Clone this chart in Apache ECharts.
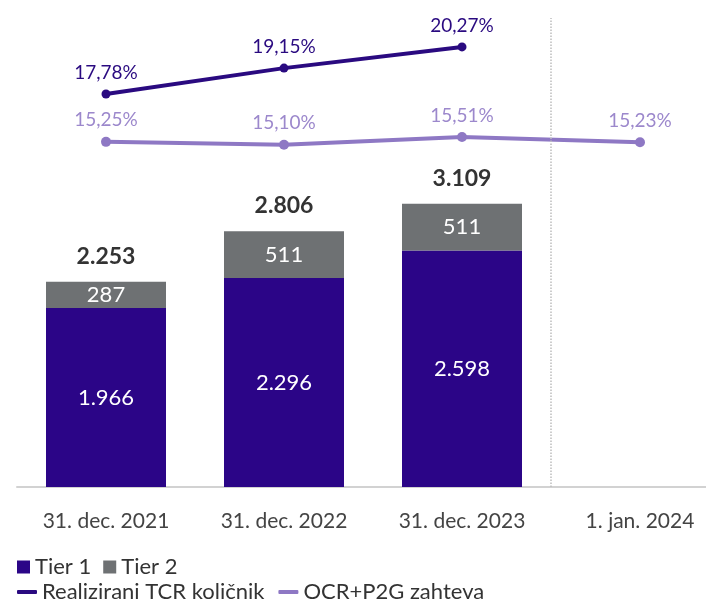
<!DOCTYPE html>
<html>
<head>
    <meta charset="utf-8">
    <title>TCR</title>
    <script src="https://cdn.jsdelivr.net/npm/echarts@6/dist/echarts.min.js"></script>
    <style>
        html, body { margin: 0; padding: 0; background: #fff; }
        #chart { width: 706px; height: 605px; }
    </style>
</head>
<body>
<div id="chart"></div>
<script type="text/javascript">
    // podaci
    var categories = ['31. dec. 2021', '31. dec. 2022', '31. dec. 2023', '1. jan. 2024'];
    var tier1 = [1966, 2296, 2598, null];
    var tier2 = [287, 511, 511, null];
    var totals = [2253, 2806, 3109, null];   // kako je napisano na slici
    var tcr = [17.78, 19.15, 20.27, null];
    var ocr = [15.25, 15.10, 15.51, 15.23];
    var dividerAt = [3];  // granica izmedju 2023 i 2024 (u jedinicama kategorija)

    function fmtNum(n) {
        return String(n).replace(/\B(?=(\d{3})+(?!\d))/g, '.');
    }
    function fmtPct(v) {
        return v.toFixed(2).replace('.', ',') + '%';
    }

    var font = 'Lato';
    var myChart = echarts.init(document.getElementById('chart'));

    var option = {
        textStyle: { fontFamily: font },
        animation: false,
        grid: { left: 17, width: 712, top: 18, bottom: 118, outerBoundsMode: 'none', containLabel: false },
        legend: [{
            data: ['Tier 1', 'Tier 2'],
            left: 12, top: 551,
            icon: 'rect', itemWidth: 13, itemHeight: 13, itemGap: 12,
            itemStyle: { borderWidth: 0 },
            textStyle: { fontSize: 22, color: '#333', fontFamily: font }
        }, {
            data: ['Realizirani TCR količnik', 'OCR+P2G zahteva'],
            left: 12, top: 576,
            icon: 'roundRect', itemWidth: 20, itemHeight: 4, itemGap: 14,
            textStyle: { fontSize: 22, color: '#333', fontFamily: font }
        }],
        xAxis: [{
            type: 'category',
            data: categories,
            axisTick: { show: false },
            axisLine: { lineStyle: { color: '#d2d2d2', width: 2 } },
            axisLabel: { color: '#444', fontSize: 21, margin: 24 },
            splitLine: { show: false }
        }, {
            // pomocna osa za isprekidanu granicu
            type: 'value', min: 0, max: 4, show: false
        }],
        yAxis: [{
            type: 'value', min: 0, max: 5150, show: false
        }, {
            type: 'value', min: -3, max: 21.8, show: false
        }],
        series: [{
            name: 'Tier 1',
            type: 'bar',
            stack: 'kap',
            barWidth: 120,
            data: tier1,
            itemStyle: { color: '#2B0587' },
            label: {
                show: true, position: 'inside', color: '#fff', fontSize: 22,
                formatter: function (p) { return fmtNum(p.value); }
            }
        }, {
            name: 'Tier 2',
            type: 'bar',
            stack: 'kap',
            barWidth: 120,
            data: tier2,
            itemStyle: { color: '#6E7173' },
            label: {
                show: true, position: 'inside', color: '#fff', fontSize: 22,
                formatter: function (p) { return fmtNum(p.value); }
            }
        }, {
            name: 'Ukupno',
            type: 'bar',
            barWidth: 120,
            barGap: '-100%',
            data: totals,
            itemStyle: { color: 'rgba(0,0,0,0)' },
            z: 1,
            label: {
                show: true, position: 'top', distance: 14,
                color: '#333', fontSize: 23, fontWeight: 'bold',
                formatter: function (p) { return fmtNum(p.value); }
            }
        }, {
            name: 'Realizirani TCR količnik',
            type: 'line',
            yAxisIndex: 1,
            data: tcr,
            symbol: 'circle',
            symbolSize: 9,
            lineStyle: { width: 4, color: '#2A0A80' },
            itemStyle: { color: '#2A0A80' },
            label: {
                show: true, position: 'top', distance: 7,
                color: '#2A0A80', fontSize: 19,
                formatter: function (p) { return fmtPct(p.value); }
            }
        }, {
            name: 'OCR+P2G zahteva',
            type: 'line',
            yAxisIndex: 1,
            data: ocr,
            symbol: 'circle',
            symbolSize: 10,
            lineStyle: { width: 4, color: '#8E78C4' },
            itemStyle: { color: '#8E78C4' },
            label: {
                show: true, position: 'top', distance: 7,
                color: '#9C88CC', fontSize: 19,
                formatter: function (p) { return fmtPct(p.value); }
            }
        }, {
            name: 'granica',
            type: 'scatter',
            xAxisIndex: 1,
            yAxisIndex: 0,
            symbolSize: 0,
            silent: true,
            data: dividerAt.map(function (x) { return [x, 0]; }),
            markLine: {
                silent: true,
                symbol: 'none',
                label: { show: false },
                lineStyle: { type: 'dotted', color: '#bdbdbd', width: 1.5 },
                data: dividerAt.map(function (x) { return { xAxis: x }; })
            }
        }]
    };

    myChart.setOption(option);
</script>
</body>
</html>
